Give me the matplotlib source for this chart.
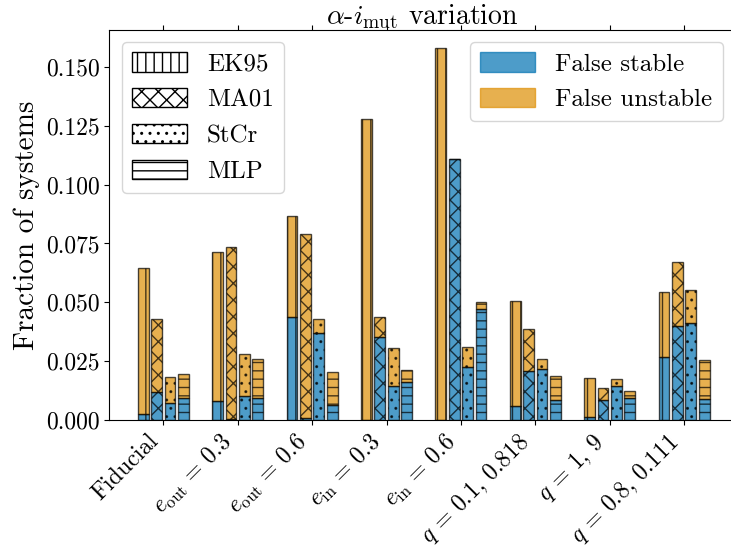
import numpy as np
import matplotlib
matplotlib.use("Agg")
import matplotlib.pyplot as plt
from matplotlib.patches import Patch

plt.rcParams['font.family'] = 'serif'
plt.rcParams['font.serif'] = ['cmr10']
plt.rcParams['mathtext.fontset'] = 'cm'
plt.rcParams['axes.unicode_minus'] = False
plt.rcParams['axes.formatter.use_mathtext'] = True

groups = ['Fiducial', r'$e_{\rm out}\,=\,0.3$', r'$e_{\rm out}\,=\,0.6$', r'$e_{\rm in}\,=\,0.3$',
          r'$e_{\rm in}\,=\,0.6$', r'$q\,=\,0.1,\,0.818$', r'$q\,=\,1,\,9$', r'$q\,=\,0.8,\,0.111$']
methods = ['EK95', 'MA01', 'StCr', 'MLP']
hatches = ['||', 'xx', '..', '--']

# total height of each bar (false stable + false unstable)
total = {
    'EK95': [0.0645, 0.0715, 0.0866, 0.1278, 0.1580, 0.0504, 0.0178, 0.0544],
    'MA01': [0.0428, 0.0734, 0.0790, 0.0436, 0.1109, 0.0385, 0.0136, 0.0670],
    'StCr': [0.0181, 0.0280, 0.0428, 0.0305, 0.0309, 0.0258, 0.0176, 0.0551],
    'MLP':  [0.0194, 0.0258, 0.0203, 0.0212, 0.0501, 0.0187, 0.0125, 0.0255],
}
false_stable = {
    'EK95': [0.0024, 0.0081, 0.0436, 0.0000, 0.0000, 0.0061, 0.0011, 0.0269],
    'MA01': [0.0118, 0.0005, 0.0008, 0.0351, 0.1109, 0.0210, 0.0085, 0.0400],
    'StCr': [0.0071, 0.0103, 0.0368, 0.0144, 0.0224, 0.0217, 0.0144, 0.0414],
    'MLP':  [0.0092, 0.0095, 0.0064, 0.0163, 0.0473, 0.0085, 0.0092, 0.0089],
}

c_stable = '#0173b2'
c_unstable = '#de8f05'
alpha = 0.7

fig = plt.figure(figsize=(7.31, 5.49), dpi=100)
ax = fig.add_axes([0.1495, 0.235, 0.856, 0.7104])

x = np.arange(len(groups))
width = 0.145
for i, m in enumerate(methods):
    pos = x + (i - 1.5) * 0.18
    fs = np.array(false_stable[m])
    fu = np.array(total[m]) - fs
    ax.bar(pos, fs, width, color=c_stable, edgecolor='black', hatch=hatches[i], alpha=alpha)
    ax.bar(pos, fu, width, bottom=fs, color=c_unstable, edgecolor='black', hatch=hatches[i], alpha=alpha)

ax.set_xlim(-0.726, 7.684)
ax.set_ylim(0, 0.1657)
ax.set_xticks(x)
ax.set_xticklabels(groups, rotation=45, ha='right', fontsize=17)
ax.tick_params(axis='y', labelsize=17)
ax.tick_params(top=True)
ax.spines['right'].set_visible(False)
ax.yaxis.set_major_formatter(matplotlib.ticker.FormatStrFormatter('%.3f'))
ax.set_ylabel('Fraction of systems', fontsize=21)
ax.set_title(r'$\alpha$-$i_{\rm mut}$ variation', fontsize=20, pad=4)

h1 = [Patch(facecolor='white', edgecolor='black', hatch=h) for h in hatches]
leg1 = ax.legend(h1, methods, loc='upper left', fontsize=18,
                 handlelength=2.2, handleheight=0.8)
ax.add_artist(leg1)
h2 = [Patch(color=c_stable, alpha=alpha), Patch(color=c_unstable, alpha=alpha)]
ax.legend(h2, ['False stable', 'False unstable'], loc='upper right', fontsize=18,
          handlelength=2.2, handleheight=0.8)

fig.savefig('out.png', dpi=100)
